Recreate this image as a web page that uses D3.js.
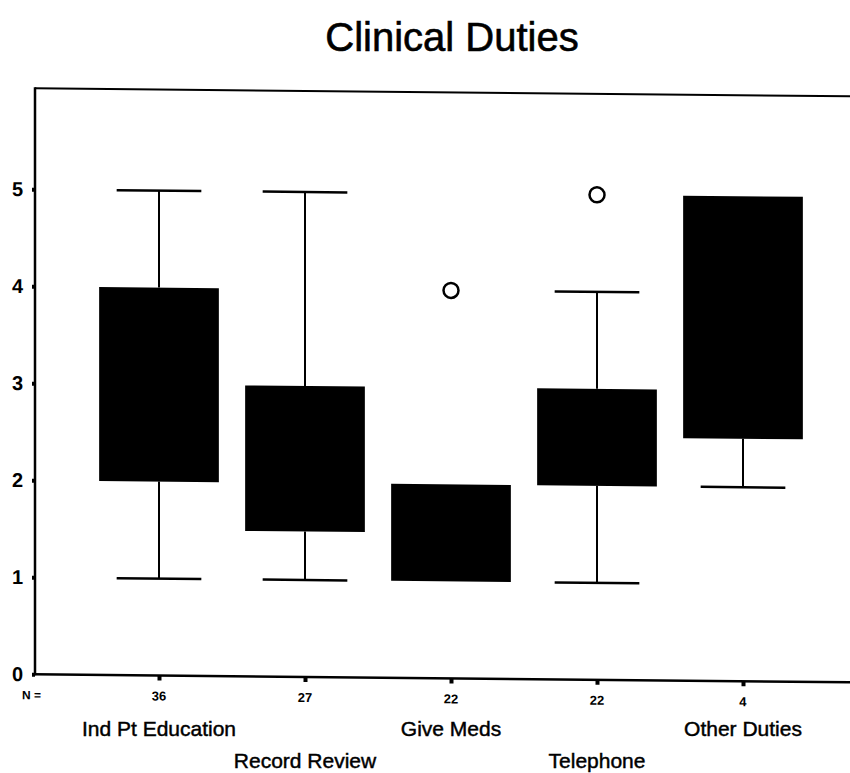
<!DOCTYPE html>
<html><head><meta charset="utf-8">
<script src="https://cdn.jsdelivr.net/npm/d3@7/dist/d3.min.js"></script>
<style>body{margin:0;background:#fff}svg{display:block}text{font-family:"Liberation Sans",Arial,sans-serif}</style>
</head><body><svg id="c" width="850" height="773"></svg>
<script>
// ---- data ----
const categories = ["Ind Pt Education","Record Review","Give Meds","Telephone","Other Duties"];
const nCounts = [36, 27, 22, 22, 4];
const q1 = [2, 1.5, 1, 2, 2.5];
const q3 = [4, 3, 2, 3, 5];
const whiskerLow = [1, 1, 1, 1, 2];
const whiskerHigh = [5, 5, 2, 4, 5];
const outliers = [[], [], [4], [5], []];
const yTicks = [0, 1, 2, 3, 4, 5];
const title = "Clinical Duties";

// ---- layout ----
(function () {
const svg = d3.select("#c");
const mLeft = 35, mBottom = 674, mTop = 88, mRight = 900;
const x = d3.scalePoint().domain(categories).range([159, 743]);
const y = d3.scaleLinear().domain([0, 6]).range([mBottom, 92]);
const step = x.step();
const boxW = step * 0.82, capW = step * 0.58;

svg.append("text").attr("x", 452).attr("y", 51).attr("text-anchor", "middle")
  .attr("font-size", 40).attr("fill", "#000").attr("stroke", "#000").attr("stroke-width", 0.6)
  .text(title);

const g = svg.append("g").attr("transform", "skewY(0.56)");

// frame top
g.append("line").attr("x1", mLeft).attr("x2", mRight).attr("y1", mTop).attr("y2", mTop)
  .attr("stroke", "#000").attr("stroke-width", 2);

// y axis
const ya = g.append("g").attr("transform", `translate(${mLeft},0)`)
  .call(d3.axisLeft(y).tickValues(yTicks).tickSize(3).tickPadding(9).tickFormat(d3.format("d")));
ya.select(".domain").remove();
ya.selectAll(".tick line").attr("stroke-width", 4);
ya.selectAll(".tick text").attr("font-size", 20).attr("font-weight", "bold")
  .attr("font-family", "Liberation Sans, Arial, sans-serif");
g.append("line").attr("x1", mLeft).attr("x2", mLeft).attr("y1", mTop - 1).attr("y2", mBottom + 1)
  .attr("stroke", "#000").attr("stroke-width", 2.5);

// x axis
const xa = g.append("g").attr("transform", `translate(0,${mBottom})`)
  .call(d3.axisBottom(x).tickSize(5).tickFormat(""));
xa.select(".domain").remove();
xa.selectAll(".tick line").attr("stroke-width", 4);
g.append("line").attr("x1", mLeft - 1).attr("x2", mRight).attr("y1", mBottom).attr("y2", mBottom)
  .attr("stroke", "#000").attr("stroke-width", 2.5);

// boxes
const data = categories.map((c, i) => ({c, n: nCounts[i], q1: q1[i], q3: q3[i], lo: whiskerLow[i], hi: whiskerHigh[i], out: outliers[i]}));
const bx = g.selectAll(".bx").data(data).join("g").attr("class", "bx");
bx.filter(d => d.hi > d.q3).append("line")
  .attr("x1", d => x(d.c)).attr("x2", d => x(d.c)).attr("y1", d => y(d.hi)).attr("y2", d => y(d.q3))
  .attr("stroke", "#000").attr("stroke-width", 2);
bx.filter(d => d.hi > d.q3).append("line")
  .attr("x1", d => x(d.c) - capW / 2).attr("x2", d => x(d.c) + capW / 2).attr("y1", d => y(d.hi)).attr("y2", d => y(d.hi))
  .attr("stroke", "#000").attr("stroke-width", 2.5);
bx.filter(d => d.lo < d.q1).append("line")
  .attr("x1", d => x(d.c)).attr("x2", d => x(d.c)).attr("y1", d => y(d.q1)).attr("y2", d => y(d.lo))
  .attr("stroke", "#000").attr("stroke-width", 2);
bx.filter(d => d.lo < d.q1).append("line")
  .attr("x1", d => x(d.c) - capW / 2).attr("x2", d => x(d.c) + capW / 2).attr("y1", d => y(d.lo)).attr("y2", d => y(d.lo))
  .attr("stroke", "#000").attr("stroke-width", 2.5);
bx.append("rect")
  .attr("x", d => x(d.c) - boxW / 2).attr("width", boxW)
  .attr("y", d => y(d.q3)).attr("height", d => y(d.q1) - y(d.q3)).attr("fill", "#000");
bx.selectAll("circle").data(d => d.out.map(v => ({c: d.c, v}))).join("circle")
  .attr("cx", d => x(d.c)).attr("cy", d => y(d.v)).attr("r", 7.5)
  .attr("fill", "none").attr("stroke", "#000").attr("stroke-width", 2.5);

// N labels
g.append("text").attr("x", 22).attr("y", 699).attr("font-size", 12).attr("font-weight", "bold").text("N =");
g.selectAll(".nl").data(data).join("text").attr("class", "nl")
  .attr("x", d => x(d.c)).attr("y", 699).attr("text-anchor", "middle")
  .attr("font-size", 13).attr("font-weight", "bold").text(d => d.n);

// category labels (staggered)
svg.selectAll(".cl").data(data).join("text").attr("class", "cl")
  .attr("x", d => x(d.c)).attr("y", (d, i) => i % 2 === 0 ? 736 : 768)
  .attr("text-anchor", "middle").attr("font-size", 21)
  .attr("stroke", "#000").attr("stroke-width", 0.45).text(d => d.c);
})();
</script></body></html>
